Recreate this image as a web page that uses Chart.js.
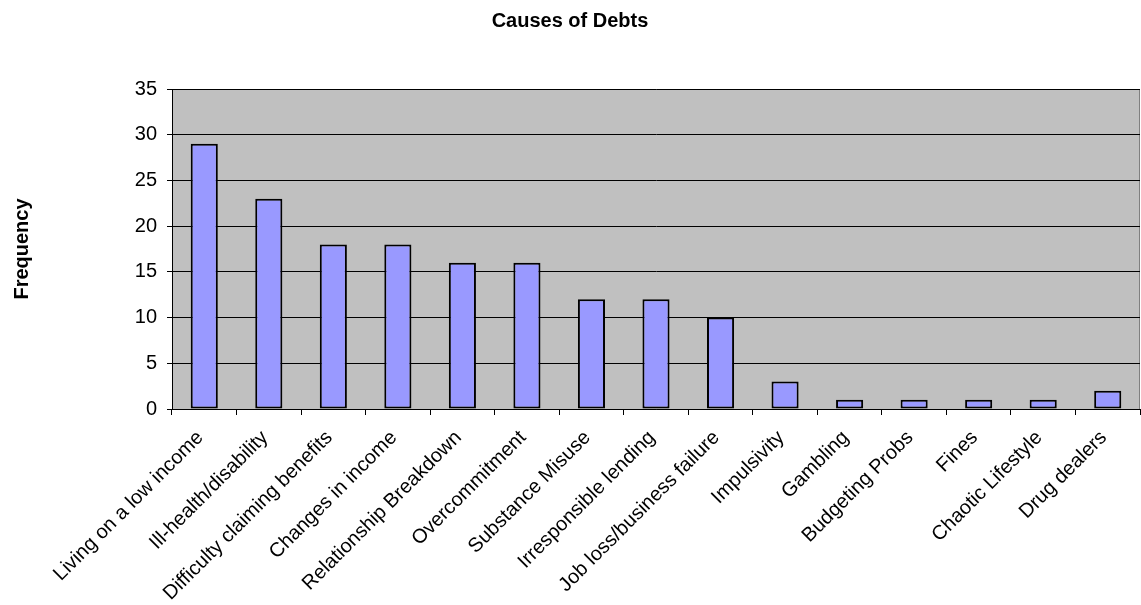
<!DOCTYPE html>
<html>
<head>
<meta charset="utf-8">
<title>Causes of Debts</title>
<script src="https://cdn.jsdelivr.net/npm/chart.js@4.4.1/dist/chart.umd.min.js"></script>
<style>
  html, body { margin: 0; padding: 0; background: #ffffff; }
  #wrap { position: relative; width: 1141px; height: 605px; }
</style>
</head>
<body>
<div id="wrap"><canvas id="chart"></canvas></div>
<script>
// Causes reported and how often each was mentioned
const categories = [
  "Living on a low income",
  "Ill-health/disability",
  "Difficulty claiming benefits",
  "Changes in income",
  "Relationship Breakdown",
  "Overcommitment",
  "Substance Misuse",
  "Irresponsible lending",
  "Job loss/business failure",
  "Impulsivity",
  "Gambling",
  "Budgeting Probs",
  "Fines",
  "Chaotic Lifestyle",
  "Drug dealers"
];
const frequency = [29, 23, 18, 18, 16, 16, 12, 12, 10, 3, 1, 1, 1, 1, 2];
const yTicks = [0, 5, 10, 15, 20, 25, 30, 35];

const FONT = "'Liberation Sans', Arial, Helvetica, sans-serif";

// Grey plot background with a darker frame on the top and right edges
const plotBackground = {
  id: 'plotBackground',
  beforeDraw(chart) {
    const { ctx, chartArea: a } = chart;
    ctx.save();
    ctx.fillStyle = '#C0C0C0';
    ctx.fillRect(a.left, a.top, a.right - a.left, a.bottom - a.top);
    ctx.strokeStyle = '#808080';
    ctx.lineWidth = 1;
    ctx.beginPath();
    ctx.moveTo(a.left, a.top + 0.5);
    ctx.lineTo(a.right - 0.5, a.top + 0.5);
    ctx.lineTo(a.right - 0.5, a.bottom);
    ctx.stroke();
    ctx.restore();
  }
};

new Chart(document.getElementById('chart'), {
  type: 'bar',
  data: {
    labels: categories,
    datasets: [{
      label: 'Frequency',
      data: frequency,
      backgroundColor: '#9999FF',
      borderColor: '#000000',
      borderWidth: 2,
      borderSkipped: false,
      barPercentage: 0.42,
      categoryPercentage: 1.0
    }]
  },
  options: {
    responsive: true,
    maintainAspectRatio: false,
    animation: false,
    devicePixelRatio: 1,
    layout: { padding: { left: 0, right: 1, top: 0, bottom: 0 } },
    plugins: {
      legend: { display: false },
      tooltip: { enabled: false },
      title: {
        display: true,
        text: 'Causes of Debts',
        color: '#000000',
        font: { family: FONT, size: 20, weight: 'bold' },
        padding: { top: 9, bottom: 56 }
      }
    },
    scales: {
      x: {
        offset: true,
        grid: {
          offset: true,
          drawOnChartArea: false,
          drawTicks: true,
          tickLength: 6,
          color: '#000000'
        },
        border: { color: '#000000', width: 1 },
        ticks: {
          autoSkip: false,
          minRotation: 45,
          maxRotation: 45,
          padding: 11,
          labelOffset: -4,
          color: '#000000',
          font: { family: FONT, size: 20 }
        },
        afterFit(scale) { scale.height = 196; }
      },
      y: {
        min: 0,
        max: 35,
        afterBuildTicks(scale) { scale.ticks = yTicks.map(v => ({ value: v })); },
        grid: {
          color: '#000000',
          drawTicks: true,
          tickLength: 5
        },
        border: { color: '#000000', width: 1 },
        ticks: {
          padding: 10,
          color: '#000000',
          font: { family: FONT, size: 20 }
        },
        title: {
          display: true,
          text: 'Frequency',
          color: '#000000',
          font: { family: FONT, size: 20, weight: 'bold' },
          padding: { top: 10, bottom: 0 }
        },
        afterFit(scale) { scale.width = 172; }
      }
    }
  },
  plugins: [plotBackground]
});
</script>
</body>
</html>
